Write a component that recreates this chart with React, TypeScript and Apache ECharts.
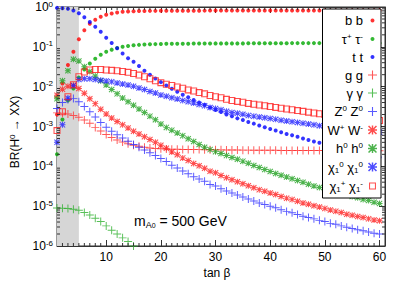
import React, { useEffect, useRef } from 'react';
import * as echarts from 'echarts';

// tan(beta) sample points
const tanBeta = [1,2,3,4,5,6,7,8,9,10,11,12,13,14,15,16,17,18,19,20,21,22,23,24,25,26,27,28,29,30,31,32,33,34,35,36,37,38,39,40,41,42,43,44,45,46,47,48,49,50,51,52,53,54,55,56,57,58,59,60];

const brBB = [2.0e-3,1.2e-2,3.5e-2,7.5e-2,0.155,0.26,0.38,0.48,0.57,0.64,0.69,0.73,0.76,0.775,0.785,0.79,0.795,0.8,0.8,0.805,0.805,0.806,0.807,0.808,0.809,0.81,0.81,0.811,0.812,0.812,0.813,0.813,0.814,0.814,0.815,0.815,0.816,0.816,0.817,0.817,0.818,0.818,0.818,0.819,0.819,0.819,0.82,0.82,0.82,0.82,0.821,0.821,0.821,0.821,0.822,0.822,0.822,0.822,0.823,0.823];
const brTauTau = [2.0e-4,1.5e-3,4.5e-3,9.0e-3,0.017,0.027,0.038,0.05,0.063,0.075,0.085,0.094,0.1,0.105,0.109,0.112,0.114,0.116,0.117,0.118,0.119,0.119,0.12,0.12,0.12,0.121,0.121,0.121,0.121,0.122,0.122,0.122,0.122,0.122,0.122,0.123,0.123,0.123,0.123,0.123,0.123,0.123,0.123,0.124,0.124,0.124,0.124,0.124,0.124,0.124,0.124,0.124,0.124,0.124,0.124,0.124,0.124,0.124,0.124,0.124];
const brTT = [0.95,0.93,0.9,0.82,0.7,0.55,0.42,0.32,0.24,0.17,0.125,0.092,0.068,0.052,0.042,0.033,0.025,0.02,0.016,0.013,0.0107,0.0089,0.0075,0.0063,0.0054,0.0046,0.004,0.0035,0.003,0.0026,0.0023,0.002,0.0018,0.0016,0.00145,0.0013,0.00118,0.00106,0.00096,0.00087,0.00079,0.00072,0.00065,0.0006,0.00055,0.0005,0.00046,0.00042,0.00039,0.00036,0.00033,0.00031,0.00028,0.00026,0.00024,0.00023,0.00021,0.0002,0.00018,0.00017];
const brGG = [2.2e-3,2.15e-3,2.05e-3,1.9e-3,1.7e-3,1.45e-3,1.2e-3,9.5e-4,7.7e-4,6.3e-4,5.3e-4,4.6e-4,4.1e-4,3.7e-4,3.4e-4,3.2e-4,3.0e-4,2.9e-4,2.8e-4,2.75e-4,2.72e-4,2.7e-4,2.68e-4,2.66e-4,2.65e-4,2.64e-4,2.63e-4,2.62e-4,2.61e-4,2.6e-4,2.59e-4,2.58e-4,2.57e-4,2.56e-4,2.55e-4,2.55e-4,2.54e-4,2.53e-4,2.53e-4,2.52e-4,2.52e-4,2.51e-4,2.51e-4,2.5e-4,2.5e-4,2.5e-4,2.49e-4,2.49e-4,2.49e-4,2.48e-4,2.48e-4,2.48e-4,2.48e-4,2.47e-4,2.47e-4,2.47e-4,2.47e-4,2.46e-4,2.46e-4,2.46e-4];
const brGamGam = [9.0e-6,8.9e-6,8.7e-6,8.4e-6,7.9e-6,6.9e-6,6.0e-6,5.0e-6,4.1e-6,3.2e-6,2.5e-6,2.0e-6,1.6e-6,1.3e-6,1.0e-6,8.2e-7,6.6e-7,null,null,null,null,null,null,null,null,null,null,null,null,null,null,null,null,null,null,null,null,null,null,null,null,null,null,null,null,null,null,null,null,null,null,null,null,null,null,null,null,null,null,null];
const brZZ = [2.82e-3,3.98e-3,4.79e-3,5.01e-3,4.17e-3,3.16e-3,2.34e-3,1.74e-3,1.26e-3,9.55e-4,7.59e-4,6.17e-4,5.13e-4,4.27e-4,3.55e-4,3.02e-4,2.57e-4,2.19e-4,1.86e-4,1.58e-4,1.32e-4,1.07e-4,9.1e-5,7.6e-5,6.5e-5,5.5e-5,4.8e-5,4.2e-5,3.5e-5,3.2e-5,2.75e-5,2.4e-5,2.14e-5,1.9e-5,1.7e-5,1.51e-5,1.35e-5,1.2e-5,1.1e-5,1.0e-5,9.1e-6,8.1e-6,7.4e-6,6.8e-6,6.2e-6,5.6e-6,5.2e-6,4.8e-6,4.4e-6,4.1e-6,3.7e-6,3.5e-6,3.2e-6,2.95e-6,2.75e-6,2.57e-6,2.4e-6,2.24e-6,2.09e-6,2.0e-6];
const brWW = [6.1e-3,8.6e-3,1.03e-2,1.08e-2,9.0e-3,6.8e-3,5.0e-3,3.75e-3,2.7e-3,2.05e-3,1.63e-3,1.33e-3,1.1e-3,9.2e-4,7.6e-4,6.5e-4,5.5e-4,4.7e-4,4.0e-4,3.4e-4,2.85e-4,2.3e-4,1.96e-4,1.63e-4,1.4e-4,1.18e-4,1.03e-4,9.0e-5,7.5e-5,6.9e-5,5.9e-5,5.2e-5,4.6e-5,4.1e-5,3.65e-5,3.25e-5,2.9e-5,2.6e-5,2.37e-5,2.15e-5,1.96e-5,1.74e-5,1.59e-5,1.46e-5,1.33e-5,1.2e-5,1.12e-5,1.03e-5,9.5e-6,8.8e-6,8.0e-6,7.5e-6,6.9e-6,6.3e-6,5.9e-6,5.5e-6,5.2e-6,4.8e-6,4.5e-6,4.3e-6];
const brHH = [5.0e-3,1.41e-2,2.5e-2,4.9e-2,4.4e-2,3.16e-2,2.4e-2,1.86e-2,1.41e-2,1.1e-2,8.5e-3,6.6e-3,5.2e-3,4.2e-3,3.4e-3,2.75e-3,2.24e-3,1.82e-3,1.48e-3,1.15e-3,9.5e-4,8.1e-4,6.9e-4,5.9e-4,4.9e-4,4.2e-4,3.55e-4,3.0e-4,2.63e-4,2.34e-4,2.09e-4,1.86e-4,1.66e-4,1.51e-4,1.35e-4,1.2e-4,1.05e-4,9.3e-5,8.3e-5,7.4e-5,6.6e-5,6.0e-5,5.4e-5,4.9e-5,4.4e-5,4.0e-5,3.55e-5,3.2e-5,2.95e-5,2.63e-5,2.45e-5,2.24e-5,2.04e-5,1.9e-5,1.74e-5,1.62e-5,1.48e-5,1.38e-5,1.26e-5,1.17e-5];
const brN1N1 = [4.0e-4,1.1e-3,5.1e-3,1.05e-2,1.51e-2,1.58e-2,1.58e-2,1.51e-2,1.45e-2,1.38e-2,1.32e-2,1.23e-2,1.17e-2,1.1e-2,1.02e-2,9.3e-3,8.5e-3,7.6e-3,6.9e-3,6.2e-3,5.75e-3,5.25e-3,4.9e-3,4.47e-3,4.17e-3,3.9e-3,3.55e-3,3.3e-3,3.0e-3,2.82e-3,2.63e-3,2.4e-3,2.24e-3,2.14e-3,2.04e-3,1.9e-3,1.82e-3,1.74e-3,1.66e-3,1.58e-3,1.51e-3,1.44e-3,1.38e-3,1.32e-3,1.26e-3,1.2e-3,1.15e-3,1.1e-3,1.05e-3,1.0e-3,9.7e-4,9.3e-4,9.0e-4,8.7e-4,8.4e-4,8.1e-4,7.9e-4,7.6e-4,7.4e-4,7.2e-4];
const brC1C1 = [7.9e-4,2.34e-3,5.6e-3,1.12e-2,1.78e-2,2.34e-2,2.63e-2,2.69e-2,2.69e-2,2.63e-2,2.57e-2,2.51e-2,2.4e-2,2.29e-2,2.14e-2,1.95e-2,1.78e-2,1.58e-2,1.41e-2,1.26e-2,1.15e-2,1.07e-2,9.8e-3,9.1e-3,8.3e-3,7.8e-3,7.1e-3,6.6e-3,6.0e-3,5.6e-3,5.25e-3,4.8e-3,4.5e-3,4.27e-3,4.07e-3,3.8e-3,3.63e-3,3.47e-3,3.31e-3,3.16e-3,3.02e-3,2.88e-3,2.75e-3,2.63e-3,2.51e-3,2.4e-3,2.29e-3,2.19e-3,2.09e-3,2.0e-3,1.93e-3,1.86e-3,1.8e-3,1.74e-3,1.68e-3,1.62e-3,1.57e-3,1.51e-3,1.46e-3,1.41e-3];

const xTickLabels = ['10', '20', '30', '40', '50', '60'];
const legendLabels = [
  '{n|b b}',
  '{n|τ}{sup|+}{n| τ}{sup|-}',
  '{n|t t}',
  '{n|g g}',
  '{n|γ γ}',
  '{n|Z}{sup|0}{n| Z}{sup|0}',
  '{n|W}{sup|+}{n| W}{sup|-}',
  '{n|h}{sup|0}{n| h}{sup|0}',
  '{n|χ}{sub|1}{sup|0}{n| χ}{sub|1}{sup|0}',
  '{n|χ}{sub|1}{sup|+}{n| χ}{sub|1}{sup|-}',
];

const PLUS = 'path://M4.4,0h1.2v4.4h4.4v1.2h-4.4v4.4h-1.2v-4.4h-4.4v-1.2h4.4z';
const STAR = 'path://M4.2,0h1.6v4.2h4.2v1.6h-4.2v4.2h-1.6v-4.2h-4.2v-1.6h4.2z M1.2,0L10,8.8L8.8,10L0,1.2Z M8.8,0L10,1.2L1.2,10L0,8.8Z';
const SQUARE = 'path://M0,0H10V10H0Z M1.5,1.5V8.5H8.5V1.5Z';
const SQ_LEG = 'path://M-1.5,-1.5L-1.49,-1.5L-1.5,-1.49Z M11.5,11.5L11.49,11.5L11.5,11.49Z M0,0H10V10H0Z M1.5,1.5V8.5H8.5V1.5Z';
const DOT_LEG = 'path://M0,0L0.01,0L0,0.01Z M10,10L9.99,10L10,9.99Z M5,2.8A2.2,2.2 0 1 1 4.99,2.8Z';
const FONT = "'Liberation Sans', Arial, sans-serif";

export default function App() {
  const ref = useRef<HTMLDivElement>(null);
  useEffect(() => {
    if (!ref.current) return;
    const chart = echarts.init(ref.current, undefined, { renderer: 'svg' });
    const mk = (ys: (number | null)[]) => tanBeta.map((x, i) => [x, ys[i]]);
    const names = ['bb', 'tautau', 'tt', 'gg', 'gamgam', 'ZZ', 'WW', 'hh', 'N1N1', 'C1C1'];
    const datas = [brBB, brTauTau, brTT, brGG, brGamGam, brZZ, brWW, brHH, brN1N1, brC1C1];
    const colors = ['#ff0000', '#00a800', '#0000ff', '#ff3030', '#30b030', '#3030ff', '#ff2020', '#20a020', '#2020ff', '#ff2020'];
    const symbols = ['circle', 'circle', 'circle', PLUS, PLUS, PLUS, STAR, STAR, STAR, SQUARE];
    const sizes = [4, 4, 4, 8, 8, 8, 6, 6, 6, 7];
    const series: any[] = names.map((n, k) => ({
      name: n,
      type: 'scatter',
      data: mk(datas[k]),
      symbol: symbols[k],
      symbolSize: sizes[k],
      z: 3,
      clip: true,
      itemStyle: { color: colors[k] },
    }));
    series.unshift({
      name: 'shade',
      type: 'scatter',
      data: [],
      z: 1,
      markArea: {
        silent: true,
        itemStyle: { color: '#d6d6d6' },
        data: [[{ xAxis: 1 }, { xAxis: 5 }]],
      },
    });
    // minor ticks
    const yMinor: number[][] = [];
    for (let e = -6; e < 0; e++) for (let m = 2; m <= 9; m++) yMinor.push([1, m * Math.pow(10, e)]);
    const xMinor: number[][] = [];
    for (let x = 2; x <= 60; x++) if (x % 10 !== 0) xMinor.push([x, 1e-6]);
    series.push({
      type: 'custom',
      z: 5,
      silent: true,
      data: yMinor,
      renderItem: (params: any, api: any) => {
        const p = api.coord([api.value(0), api.value(1)]);
        const cs = params.coordSys;
        const st = { stroke: '#333', lineWidth: 1 };
        return {
          type: 'group',
          children: [
            { type: 'line', shape: { x1: cs.x, y1: p[1], x2: cs.x + 3, y2: p[1] }, style: st },
            { type: 'line', shape: { x1: cs.x + cs.width, y1: p[1], x2: cs.x + cs.width - 3, y2: p[1] }, style: st },
          ],
        };
      },
    });
    series.push({
      type: 'custom',
      z: 5,
      silent: true,
      data: xMinor,
      renderItem: (params: any, api: any) => {
        const p = api.coord([api.value(0), api.value(1)]);
        const cs = params.coordSys;
        const st = { stroke: '#333', lineWidth: 1 };
        return {
          type: 'group',
          children: [
            { type: 'line', shape: { x1: p[0], y1: cs.y + cs.height, x2: p[0], y2: cs.y + cs.height - 3 }, style: st },
            { type: 'line', shape: { x1: p[0], y1: cs.y, x2: p[0], y2: cs.y + 3 }, style: st },
          ],
        };
      },
    });

    const axisLine = { show: true, lineStyle: { color: '#333', width: 1 } };
    const legendIcons = [DOT_LEG, DOT_LEG, DOT_LEG, PLUS, PLUS, PLUS, STAR, STAR, STAR, SQ_LEG];

    chart.setOption({
      animation: false,
      backgroundColor: '#fff',
      textStyle: { fontFamily: FONT },
      grid: { left: 57, right: 24, top: 7, bottom: 40, show: true, borderColor: '#333', borderWidth: 1, backgroundColor: 'transparent' },
      xAxis: [
        {
          type: 'value', min: 1, max: 61, position: 'bottom',
          axisLine, splitLine: { show: false },
          axisTick: { inside: true, length: 6, lineStyle: { color: '#333' } },
          axisLabel: {
            color: '#000', fontSize: 12, fontFamily: FONT, margin: 5,
            showMinLabel: false, showMaxLabel: false,
            formatter: (v: number) => (xTickLabels.includes(String(v)) ? String(v) : ''),
          },
        },
        {
          type: 'value', min: 1, max: 61, position: 'top',
          axisLine, splitLine: { show: false },
          axisTick: { inside: true, length: 6, lineStyle: { color: '#333' } },
          axisLabel: { show: false },
        },
      ],
      yAxis: [
        {
          type: 'log', logBase: 10, min: 1e-6, max: 1,
          axisLine, splitLine: { show: false },
          axisTick: { inside: true, length: 6, lineStyle: { color: '#333' } },
          axisLabel: {
            color: '#000', fontFamily: FONT, margin: 4,
            formatter: (v: number) => '{b|10}{sup|' + Math.round(Math.log10(v)) + '}',
            rich: {
              b: { fontSize: 12, lineHeight: 14, fontFamily: FONT, color: '#000' },
              sup: { fontSize: 8, lineHeight: 8, verticalAlign: 'top', fontFamily: FONT, color: '#000' },
            },
          },
        },
        {
          type: 'log', logBase: 10, min: 1e-6, max: 1, position: 'right',
          axisLine, splitLine: { show: false },
          axisTick: { inside: true, length: 6, lineStyle: { color: '#333' } },
          axisLabel: { show: false },
        },
      ],
      legend: {
        orient: 'vertical',
        right: 28,
        top: 9,
        align: 'right',
        backgroundColor: '#fff',
        borderColor: '#000',
        borderWidth: 1,
        borderRadius: 0,
        padding: [5, 4, 5, 5],
        itemWidth: 9,
        itemHeight: 9,
        itemGap: 5,
        z: 10,
        data: names.map((n, i) => ({ name: n, icon: legendIcons[i] })),
        formatter: (n: string) => legendLabels[names.indexOf(n)],
        textStyle: {
          fontFamily: FONT,
          rich: {
            n: { fontSize: 13, lineHeight: 14, fontFamily: FONT, color: '#000' },
            sup: { fontSize: 8, lineHeight: 8, verticalAlign: 'top', fontFamily: FONT, color: '#000' },
            sub: { fontSize: 8, lineHeight: 8, verticalAlign: 'bottom', fontFamily: FONT, color: '#000' },
          },
        },
      },
      graphic: [
        {
          type: 'text', x: 15, y: 132, rotation: Math.PI / 2, z: 20,
          style: {
            text: '{n|BR(H}{sup|0}{n| → XX)}', align: 'center', verticalAlign: 'middle', fontFamily: FONT,
            rich: {
              n: { fontSize: 12, lineHeight: 14, fontFamily: FONT, fill: '#000' },
              sup: { fontSize: 8, lineHeight: 8, verticalAlign: 'top', fontFamily: FONT, fill: '#000' },
            },
          },
        },
        {
          type: 'text', x: 217, y: 273, z: 20,
          style: { text: 'tan β', fontSize: 12, fontFamily: FONT, fill: '#000', align: 'center', verticalAlign: 'middle' },
        },
        {
          type: 'text', x: 134, y: 221, z: 20,
          style: {
            text: '{n|m}{sub|A}{sup2|0}{n| = 500 GeV}', align: 'left', verticalAlign: 'middle', fontFamily: FONT,
            rich: {
              n: { fontSize: 14, lineHeight: 16, fontFamily: FONT, fill: '#000' },
              sub: { fontSize: 9, lineHeight: 9, verticalAlign: 'bottom', fontFamily: FONT, fill: '#000' },
              sup2: { fontSize: 7, lineHeight: 14, verticalAlign: 'bottom', fontFamily: FONT, fill: '#000' },
            },
          },
        },
      ],
      series,
    });
    return () => chart.dispose();
  }, []);
  return <div ref={ref} style={{ width: 409, height: 286, position: 'absolute', left: 0, top: 0 }} />;
}
